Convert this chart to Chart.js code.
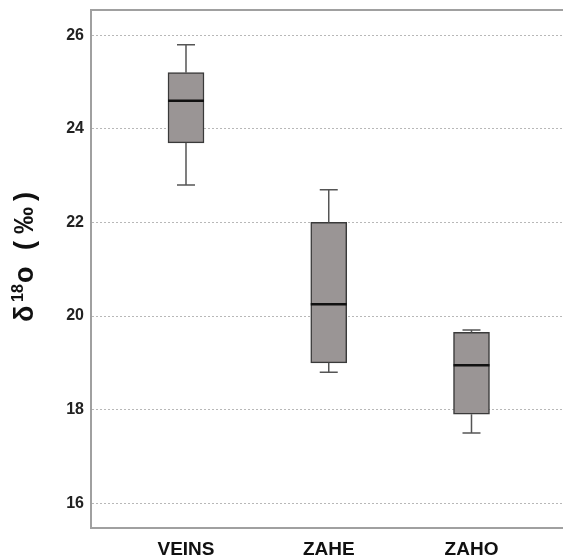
<!DOCTYPE html>
<html>
<head>
<meta charset="utf-8">
<script src="https://cdn.jsdelivr.net/npm/chart.js@4"></script>
<style>
  html, body { margin: 0; padding: 0; background: #fff; }
  #wrap { width: 563px; height: 558px; }
</style>
</head>
<body>
<div id="wrap"><canvas id="c"></canvas></div>
<script>
// box-plot values
const categories = ['VEINS', 'ZAHE', 'ZAHO'];
const whiskerMin = [22.8, 18.8, 17.5];
const q1 = [23.7, 19.0, 17.9];
const median = [24.6, 20.25, 18.95];
const q3 = [25.2, 22.0, 19.65];
const whiskerMax = [25.8, 22.7, 19.7];
const yTicks = [16, 18, 20, 22, 24, 26];

const FONT = "'Liberation Sans', Arial, sans-serif";

/* -------------------------------------------------------------------------- */
/* whiskers, medians, top frame line and rotated y title                      */
/* -------------------------------------------------------------------------- */
const boxExtras = {
  id: 'boxExtras',
  afterDatasetsDraw(chart) {
    const { ctx, scales: { x, y }, chartArea } = chart;
    ctx.save();

    // top frame
    ctx.strokeStyle = '#a0a0a0';
    ctx.lineWidth = 2;
    ctx.beginPath();
    ctx.moveTo(chartArea.left, chartArea.top);
    ctx.lineTo(chartArea.right, chartArea.top);
    ctx.stroke();

    categories.forEach((c, i) => {
      const px = x.getPixelForValue(i + 1);
      ctx.strokeStyle = '#555';
      ctx.lineWidth = 1.5;
      ctx.beginPath();
      ctx.moveTo(px, y.getPixelForValue(q3[i]));
      ctx.lineTo(px, y.getPixelForValue(whiskerMax[i]));
      ctx.moveTo(px, y.getPixelForValue(q1[i]));
      ctx.lineTo(px, y.getPixelForValue(whiskerMin[i]));
      ctx.moveTo(px - 9, y.getPixelForValue(whiskerMax[i]));
      ctx.lineTo(px + 9, y.getPixelForValue(whiskerMax[i]));
      ctx.moveTo(px - 9, y.getPixelForValue(whiskerMin[i]));
      ctx.lineTo(px + 9, y.getPixelForValue(whiskerMin[i]));
      ctx.stroke();

      ctx.strokeStyle = '#111';
      ctx.lineWidth = 2.5;
      ctx.beginPath();
      ctx.moveTo(px - 18, y.getPixelForValue(median[i]));
      ctx.lineTo(px + 18, y.getPixelForValue(median[i]));
      ctx.stroke();
    });

    // y title: δ18o (‰)
    ctx.translate(33, 322);
    ctx.rotate(-Math.PI / 2);
    ctx.fillStyle = '#111';
    ctx.textBaseline = 'alphabetic';
    ctx.textAlign = 'left';
    ctx.font = 'bold 27px ' + FONT;
    ctx.fillText('δ', 0, 0);
    ctx.font = 'bold 16px ' + FONT;
    ctx.fillText('18', 20, -10);
    ctx.font = 'bold 27px ' + FONT;
    ctx.fillText('o', 39, 0);
    ctx.fillText('(', 72, 0);
    ctx.fillText('‰', 88, 0);
    ctx.fillText(')', 121, 0);
    ctx.restore();
  }
};

new Chart(document.getElementById('c'), {
  type: 'bar',
  data: {
    datasets: [{
      data: categories.map((c, i) => ({ x: i + 1, y: [q1[i], q3[i]] })),
      backgroundColor: '#9a9595',
      borderColor: '#3a3a3a',
      borderWidth: 1.5,
      borderSkipped: false,
      barThickness: 36
    }]
  },
  options: {
    responsive: true,
    maintainAspectRatio: false,
    animation: false,
    layout: { padding: { top: 10, left: 0, right: 0, bottom: 0 } },
    plugins: { legend: { display: false }, tooltip: { enabled: false } },
    scales: {
      x: {
        type: 'linear',
        offset: false,
        min: 0.3345,
        max: 3.641,
        afterBuildTicks: s => { s.ticks = categories.map((c, i) => ({ value: i + 1 })); },
        afterFit: s => { s.height = 30; s.paddingLeft = 0; s.paddingRight = 0; },
        grid: { display: false, drawTicks: false },
        border: { display: true, color: '#a0a0a0', width: 2 },
        ticks: {
          callback: v => categories[v - 1],
          font: { family: FONT, size: 19, weight: 'bold' },
          color: '#111',
          padding: 10,
          maxRotation: 0
        }
      },
      y: {
        min: 15.47,
        max: 26.54,
        afterBuildTicks: s => { s.ticks = yTicks.map(v => ({ value: v })); },
        afterFit: s => { s.width = 91; s.paddingTop = 0; s.paddingBottom = 0; },
        grid: { color: '#b8b8b8', lineWidth: 1, drawTicks: false },
        border: { display: true, color: '#a0a0a0', width: 2, dash: [2, 2] },
        ticks: {
          font: { family: FONT, size: 16, weight: 'bold' },
          color: '#222',
          padding: 7
        }
      }
    }
  },
  plugins: [boxExtras]
});
</script>
</body>
</html>
